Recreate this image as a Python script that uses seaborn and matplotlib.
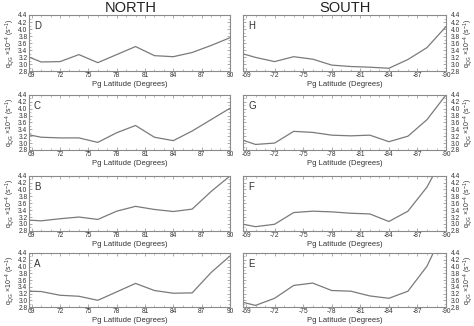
import numpy as np
import pandas as pd
import matplotlib
matplotlib.use("Agg")
import matplotlib.pyplot as plt
from matplotlib.ticker import MultipleLocator, FixedLocator
import seaborn as sns

# latitude grid (absolute degrees)
lat = [68.7, 70, 72, 74, 76, 78, 80, 82, 84, 86, 88, 90]

# North panels
north_D = [3.20, 3.06, 3.07, 3.27, 3.04, 3.27, 3.50, 3.24, 3.21, 3.33, 3.53, 3.75]
north_C = [3.24, 3.17, 3.15, 3.15, 3.02, 3.30, 3.51, 3.17, 3.07, 3.35, 3.68, 4.01]
north_B = [3.11, 3.09, 3.15, 3.20, 3.13, 3.37, 3.51, 3.42, 3.36, 3.43, 3.94, 4.39]
north_A = [3.27, 3.26, 3.15, 3.12, 3.00, 3.25, 3.50, 3.29, 3.21, 3.22, 3.82, 4.31]

# South panels
south_H = [3.29, 3.19, 3.07, 3.21, 3.14, 2.97, 2.93, 2.91, 2.88, 3.13, 3.47, 4.07]
south_G = [3.08, 2.96, 3.00, 3.34, 3.31, 3.23, 3.21, 3.23, 3.04, 3.20, 3.68, 4.40]
south_F = [2.99, 2.92, 2.99, 3.33, 3.37, 3.35, 3.31, 3.29, 3.07, 3.37, 4.07, 5.10]
south_E = [2.94, 2.85, 3.06, 3.44, 3.51, 3.29, 3.27, 3.13, 3.06, 3.27, 4.01, 5.20]

north_ticks = [69, 72, 75, 78, 81, 84, 87, 90]
south_ticks = [-69, -72, -75, -78, -81, -84, -87, -90]
y_ticks = [2.8, 3.0, 3.2, 3.4, 3.6, 3.8, 4.0, 4.2, 4.4]

sns.set_style("ticks")
plt.rcParams["font.family"] = ["Liberation Sans", "DejaVu Sans"]
plt.rcParams["mathtext.default"] = "regular"

fig = plt.figure(figsize=(4.74, 3.26), dpi=100)

rows = [  # (bottom, height)
    (0.782, 0.172),
    (0.540, 0.169),
    (0.292, 0.169),
    (0.058, 0.166),
]
left_x, left_w = 0.061, 0.424
right_x, right_w = 0.513, 0.428

north = [("D", north_D), ("C", north_C), ("B", north_B), ("A", north_A)]
south = [("H", south_H), ("G", south_G), ("F", south_F), ("E", south_E)]

ylab = r"$q_{QG}$ ×10$^{-4}$ (s$^{-1}$)"
line_color = "#7a7a7a"
spine_color = "#8a8a8a"

def style_axis(ax):
    ax.set_ylim(2.8, 4.4)
    ax.yaxis.set_major_locator(FixedLocator(y_ticks))
    ax.yaxis.set_minor_locator(MultipleLocator(0.1))
    ax.tick_params(which="both", direction="in", top=True, right=True,
                   bottom=True, left=True, labelsize=4.8, pad=1,
                   color=spine_color, labelcolor="#333333")
    ax.tick_params(which="major", length=2.5, width=0.5)
    ax.tick_params(which="minor", length=1.3, width=0.4)
    for s in ax.spines.values():
        s.set_color(spine_color)
        s.set_linewidth(0.8)
    ax.set_yticklabels([f"{v:.1f}" for v in y_ticks])

for i, ((ln, nv), (ls, sv)) in enumerate(zip(north, south)):
    b, h = rows[i]
    # north
    axn = fig.add_axes([left_x, b, left_w, h])
    dfn = pd.DataFrame({"lat": lat, "q": nv})
    sns.lineplot(data=dfn, x="lat", y="q", ax=axn, color=line_color, lw=0.9)
    axn.set_xlim(68.7, 90)
    axn.xaxis.set_major_locator(FixedLocator(north_ticks))
    axn.xaxis.set_minor_locator(MultipleLocator(1))
    style_axis(axn)
    axn.set_xticklabels([str(t) for t in north_ticks])
    axn.set_xlabel("Pg Latitude (Degrees)", fontsize=5.5, labelpad=1,
                   color="#333333")
    axn.set_ylabel(ylab, fontsize=5, labelpad=1, color="#333333")
    axn.text(0.025, 0.8, ln, transform=axn.transAxes, fontsize=7,
             color="#333333", va="center")
    # south
    axs = fig.add_axes([right_x, b, right_w, h])
    dfs = pd.DataFrame({"lat": [-v for v in lat], "q": sv})
    sns.lineplot(data=dfs, x="lat", y="q", ax=axs, color=line_color, lw=0.9)
    axs.set_xlim(-68.7, -90)
    axs.xaxis.set_major_locator(FixedLocator(south_ticks))
    axs.xaxis.set_minor_locator(MultipleLocator(1))
    style_axis(axs)
    axs.set_xticklabels([f"-{abs(t)}" for t in south_ticks])
    axs.yaxis.tick_right()
    axs.tick_params(which="both", left=True, right=True, labelleft=False,
                    labelright=True)
    axs.tick_params(axis="y", which="major", pad=3.5)
    axs.yaxis.set_label_position("right")
    axs.set_xlabel("Pg Latitude (Degrees)", fontsize=5.5, labelpad=1,
                   color="#333333")
    axs.set_ylabel(ylab, fontsize=5, labelpad=1.5, rotation=90, color="#333333")
    axs.text(0.025, 0.8, ls, transform=axs.transAxes, fontsize=7,
             color="#333333", va="center")

fig.text(0.275, 0.975, "NORTH", ha="center", va="center", fontsize=10.5,
         color="#222222")
fig.text(0.728, 0.975, "SOUTH", ha="center", va="center", fontsize=10.5,
         color="#222222")

fig.savefig("out.png", dpi=100)
